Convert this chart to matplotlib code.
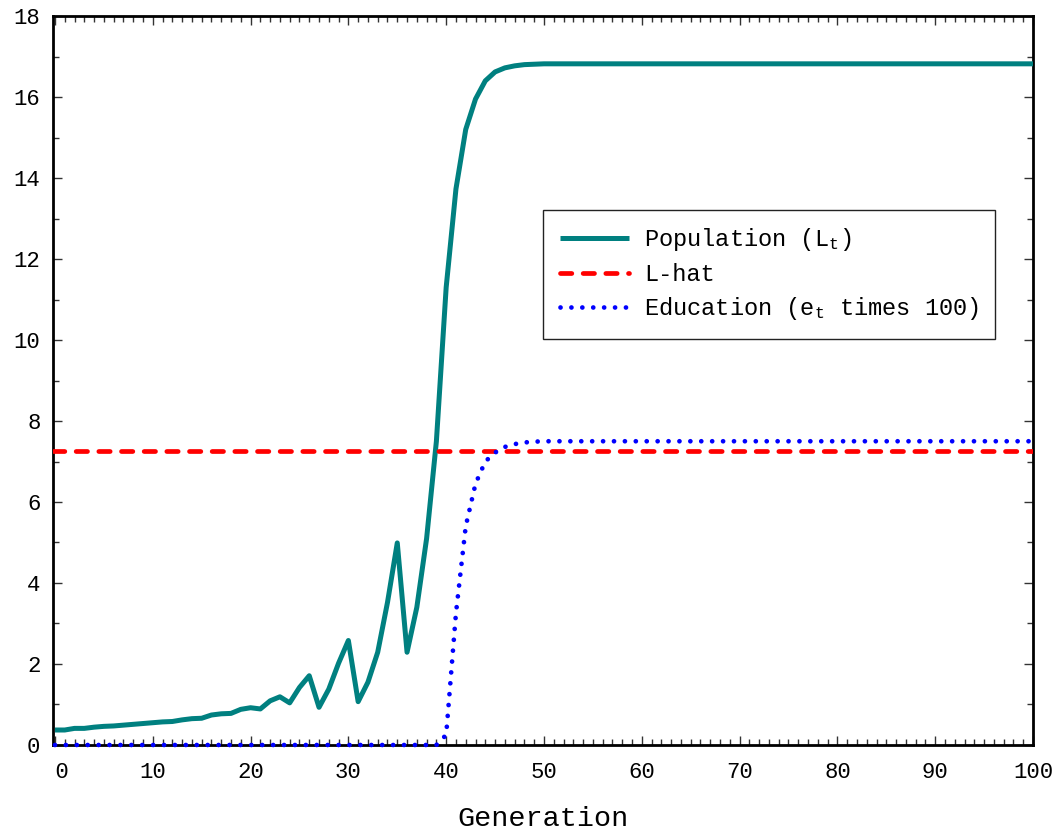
import numpy as np
import matplotlib.pyplot as plt
from matplotlib.ticker import MultipleLocator, FuncFormatter

plt.rcParams['font.family'] = ['Liberation Mono', 'DejaVu Sans Mono']
plt.rcParams['mathtext.fontset'] = 'custom'
plt.rcParams['mathtext.rm'] = 'Liberation Mono'
plt.rcParams['mathtext.it'] = 'Liberation Mono'

# generations 0..100
generation = np.arange(0, 101)

# population L_t (t = 0..49, flat afterwards)
population_head = [0.37, 0.37, 0.41, 0.41, 0.44, 0.46, 0.47, 0.49, 0.51, 0.53,
                   0.55, 0.57, 0.58, 0.62, 0.65, 0.66, 0.74, 0.77, 0.78, 0.88,
                   0.92, 0.89, 1.09, 1.19, 1.04, 1.42, 1.71, 0.93, 1.38, 2.02,
                   2.58, 1.07, 1.55, 2.29, 3.52, 4.99, 2.29, 3.40, 5.10, 7.50,
                   11.30, 13.73, 15.20, 15.95, 16.40, 16.62, 16.72, 16.77, 16.80, 16.81]
population_tail = 16.82

# education e_t times 100 (t = 0..49, flat afterwards)
education_head = [0.0] * 39 + [0.0, 0.25, 3.25, 5.40, 6.45, 7.00, 7.22, 7.36, 7.43, 7.47, 7.49]
education_tail = 7.50

l_hat = 7.27

population = population_head + [population_tail] * (len(generation) - len(population_head))
education = education_head + [education_tail] * (len(generation) - len(education_head))

fig = plt.figure(figsize=(10.62, 8.35), dpi=100)
ax = fig.add_axes([0.0499, 0.1078, 0.9228, 0.873])

ax.plot(generation, population, color='#008080', lw=3.6, solid_capstyle='butt',
        label='Population (L$_\\mathrm{t}$)', zorder=3, clip_on=False)
ax.axhline(l_hat, color='#ff0000', lw=3.4, linestyle=(0, (2.4, 2.4)),
           dash_capstyle='round', label='L-hat', zorder=3)
ax.plot(generation, education, color='#0000ff', lw=3.4, linestyle=(0, (0.01, 2.3)),
        dash_capstyle='round', label='Education (e$_\\mathrm{t}$ times 100)',
        zorder=4, clip_on=False)

ax.set_xlim(-0.2, 100)
ax.set_ylim(0, 18)
ax.xaxis.set_major_locator(MultipleLocator(10))
ax.xaxis.set_minor_locator(MultipleLocator(1))
# the "0" label sits a little right of its tick
ax.xaxis.set_major_formatter(FuncFormatter(lambda v, p: ' 0' if abs(v) < 1e-9 else '%d' % v))
ax.yaxis.set_major_locator(MultipleLocator(2))
ax.yaxis.set_minor_locator(MultipleLocator(1))
ax.tick_params(which='both', direction='in', top=True, right=True, width=1, color='#333333')
ax.tick_params(which='major', length=6.5, labelsize=16)
ax.tick_params(which='minor', length=4)
ax.tick_params(axis='x', which='major', pad=12)
ax.tick_params(axis='y', which='major', pad=9)
for s in ax.spines.values():
    s.set_linewidth(2)

ax.set_xlabel('Generation', fontsize=20.5, labelpad=17)

leg = ax.legend(loc='upper left', bbox_to_anchor=(0.5, 0.734), fontsize=17,
                handlelength=2.95, handletextpad=0.62, borderpad=0.7,
                labelspacing=0.4, fancybox=False, framealpha=1, borderaxespad=0)
leg.get_frame().set_edgecolor('#222222')
leg.get_frame().set_linewidth(1.0)

fig.savefig('out.png', dpi=100)
